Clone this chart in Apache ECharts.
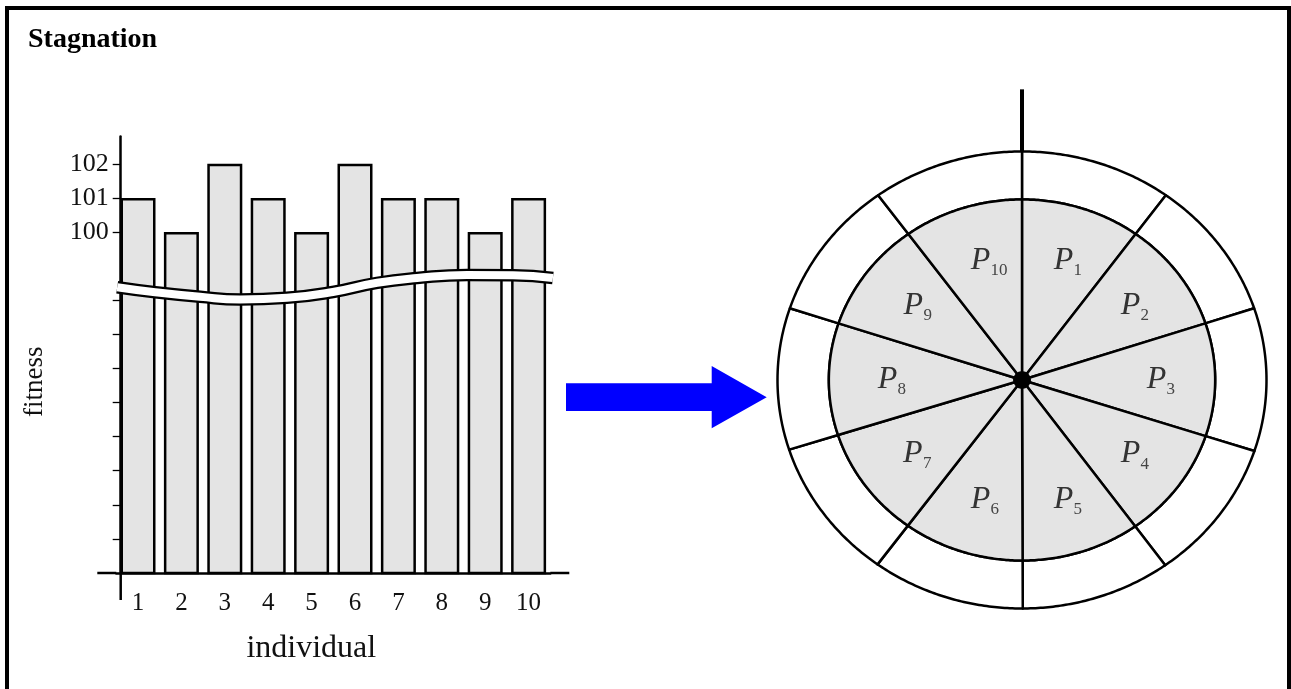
<!DOCTYPE html>
<html>
<head>
<meta charset="utf-8">
<script src="https://cdn.jsdelivr.net/npm/echarts@6/dist/echarts.min.js"></script>
<style>
  html, body { margin: 0; padding: 0; overflow: hidden; background: #fff; }
  #chart { position: absolute; left: 0; top: 0; width: 1291px; height: 689px; }
  #frame { position: absolute; left: 5px; top: 6px; width: 1286px; height: 720px; box-sizing: border-box; border: 4px solid #000; pointer-events: none; }
</style>
</head>
<body>
<div id="chart"></div>
<div id="frame"></div>
<script>
// ---- data ----
const categories = ['1', '2', '3', '4', '5', '6', '7', '8', '9', '10'];
const fitness = [101, 100, 102, 101, 100, 102, 101, 101, 100, 101];
const yTickValues = [91, 92, 93, 94, 95, 96, 97, 98, 100, 101, 102];
const yLabelValues = [100, 101, 102];
const wheelNames = ['1', '2', '3', '4', '5', '6', '7', '8', '9', '10'];
// axis-break band drawn across the bars (category-index, fitness units)
const breakCurve = [
  [-0.48, 98.38], [0.35, 98.24], [1.43, 98.10], [2.35, 98.02], [3.43, 98.07],
  [4.49, 98.24], [5.51, 98.51], [6.43, 98.65], [7.58, 98.74], [8.64, 98.73], [9.56, 98.65]
];

const SERIF = '"Liberation Serif", "Times New Roman", serif';
const RIN = 0.79;
const total = fitness.reduce((a, b) => a + b, 0);
const cum = [];
(function () { let acc = 0; fitness.forEach(v => { cum.push(acc); acc += v; }); })();

function wheelItem(params, api) {
  const i = params.dataIndex;
  const v = api.value(2);
  const a0 = cum[i] / total * 2 * Math.PI;
  const a1 = (cum[i] + v) / total * 2 * Math.PI;
  const pt = (r, a) => api.coord([r * Math.sin(a), r * Math.cos(a)]);
  const N = 60;
  const ring = [];
  const inner = [pt(0, 0)];
  for (let k = 0; k <= N; k++) {
    const a = a0 + (a1 - a0) * k / N;
    ring.push(pt(1, a));
    inner.push(pt(RIN, a));
  }
  for (let k = N; k >= 0; k--) {
    const a = a0 + (a1 - a0) * k / N;
    ring.push(pt(RIN, a));
  }
  const am = (a0 + a1) / 2;
  const lp = pt(0.55, am);
  return {
    type: 'group',
    children: [
      { type: 'polygon', shape: { points: ring }, style: { fill: '#fff', stroke: '#000', lineWidth: 2.5, lineJoin: 'round' } },
      { type: 'polygon', shape: { points: inner }, style: { fill: '#e4e4e4', stroke: '#000', lineWidth: 2.5, lineJoin: 'round' } },
      { type: 'text', style: { text: 'P', x: lp[0], y: lp[1], font: 'italic 32px ' + SERIF, fill: '#333', align: 'center', verticalAlign: 'middle' } },
      { type: 'text', style: { text: wheelNames[i], x: lp[0] + 10, y: lp[1] + 10, font: '17px ' + SERIF, fill: '#444', align: 'left', verticalAlign: 'middle' } }
    ]
  };
}

function hubItem(params, api) {
  const c = api.coord([0, 0]);
  const top = api.coord([0, 1]);
  const tip = api.coord([0, 1.272]);
  return {
    type: 'group',
    children: [
      { type: 'line', shape: { x1: top[0], y1: top[1], x2: tip[0], y2: tip[1] }, style: { stroke: '#000', lineWidth: 4 } },
      { type: 'circle', shape: { cx: c[0], cy: c[1], r: 9 }, style: { fill: '#000' } }
    ]
  };
}

const chart = echarts.init(document.getElementById('chart'), null, { renderer: 'canvas' });
chart.setOption({
  animation: false,
  backgroundColor: '#fff',
  title: {
    text: 'Stagnation', left: 23, top: 21,
    textStyle: { fontFamily: SERIF, fontWeight: 'bold', fontSize: 28, color: '#000' }
  },
  grid: [
    { left: 116.3, top: 136.5, width: 434, height: 436.5 },
    { left: 777.5, top: 151.5, width: 489, height: 457 }
  ],
  xAxis: [
    {
      type: 'category', gridIndex: 0, data: categories,
      axisLine: { onZero: false, lineStyle: { color: '#000', width: 2.5 }, symbol: ['rect', 'rect'], symbolSize: [2.5, 19], symbolOffset: [-9.5, 9.5] },
      axisTick: { show: false },
      axisLabel: { color: '#111', fontFamily: SERIF, fontSize: 25, margin: 18 },
      name: 'individual', nameLocation: 'middle', nameGap: 60,
      nameTextStyle: { color: '#111', fontFamily: SERIF, fontSize: 32, padding: [0, 44, 0, 0] }
    },
    { type: 'value', gridIndex: 0, min: -0.5, max: 9.5, show: false },
    { type: 'value', gridIndex: 1, min: -1, max: 1, show: false }
  ],
  yAxis: [
    {
      type: 'value', gridIndex: 0, min: 90, max: 102.8, interval: 1, offset: -4.4,
      splitLine: { show: false },
      axisLine: { show: true, onZero: false, lineStyle: { color: '#000', width: 2.5 }, symbol: ['rect', 'none'], symbolSize: [2.5, 27], symbolOffset: [-13.5, 0] },
      axisTick: { show: true, length: 8, lineStyle: { color: '#000', width: 1.3 }, customValues: yTickValues },
      axisLabel: { color: '#111', fontFamily: SERIF, fontSize: 26, margin: 12, customValues: yLabelValues },
      name: 'fitness', nameLocation: 'middle', nameGap: 72, nameRotate: 90,
      nameTextStyle: { color: '#111', fontFamily: SERIF, fontSize: 27, padding: [0, 54, 0, 0] }
    },
    { type: 'value', gridIndex: 1, min: -1, max: 1, show: false }
  ],
  series: [
    {
      type: 'bar', xAxisIndex: 0, yAxisIndex: 0, data: fitness, barWidth: 35,
      itemStyle: { color: '#e4e4e4', borderColor: '#000', borderWidth: 2.5 },
      silent: true
    },
    {
      type: 'line', xAxisIndex: 1, yAxisIndex: 0, data: breakCurve, smooth: true, symbol: 'none', clip: false,
      lineStyle: { color: '#000', width: 12.5, cap: 'butt' }, silent: true, z: 5
    },
    {
      type: 'line', xAxisIndex: 1, yAxisIndex: 0, data: breakCurve, smooth: true, symbol: 'none', clip: false,
      lineStyle: { color: '#fff', width: 8, cap: 'butt' }, silent: true, z: 6
    },
    {
      type: 'custom', xAxisIndex: 2, yAxisIndex: 1, renderItem: wheelItem,
      data: fitness.map(v => [0, 0, v]), encode: { x: 0, y: 1 }, silent: true
    },
    {
      type: 'custom', xAxisIndex: 2, yAxisIndex: 1, renderItem: hubItem,
      data: [[0, 0]], encode: { x: 0, y: 1 }, silent: true, z: 7
    }
  ],
  graphic: [
    {
      type: 'polygon', silent: true,
      shape: { points: [[566, 383.3], [711.7, 383.3], [711.7, 366], [766.7, 397.2], [711.7, 428.3], [711.7, 411], [566, 411]] },
      style: { fill: '#0000ff' }
    }
  ]
});
</script>
</body>
</html>
